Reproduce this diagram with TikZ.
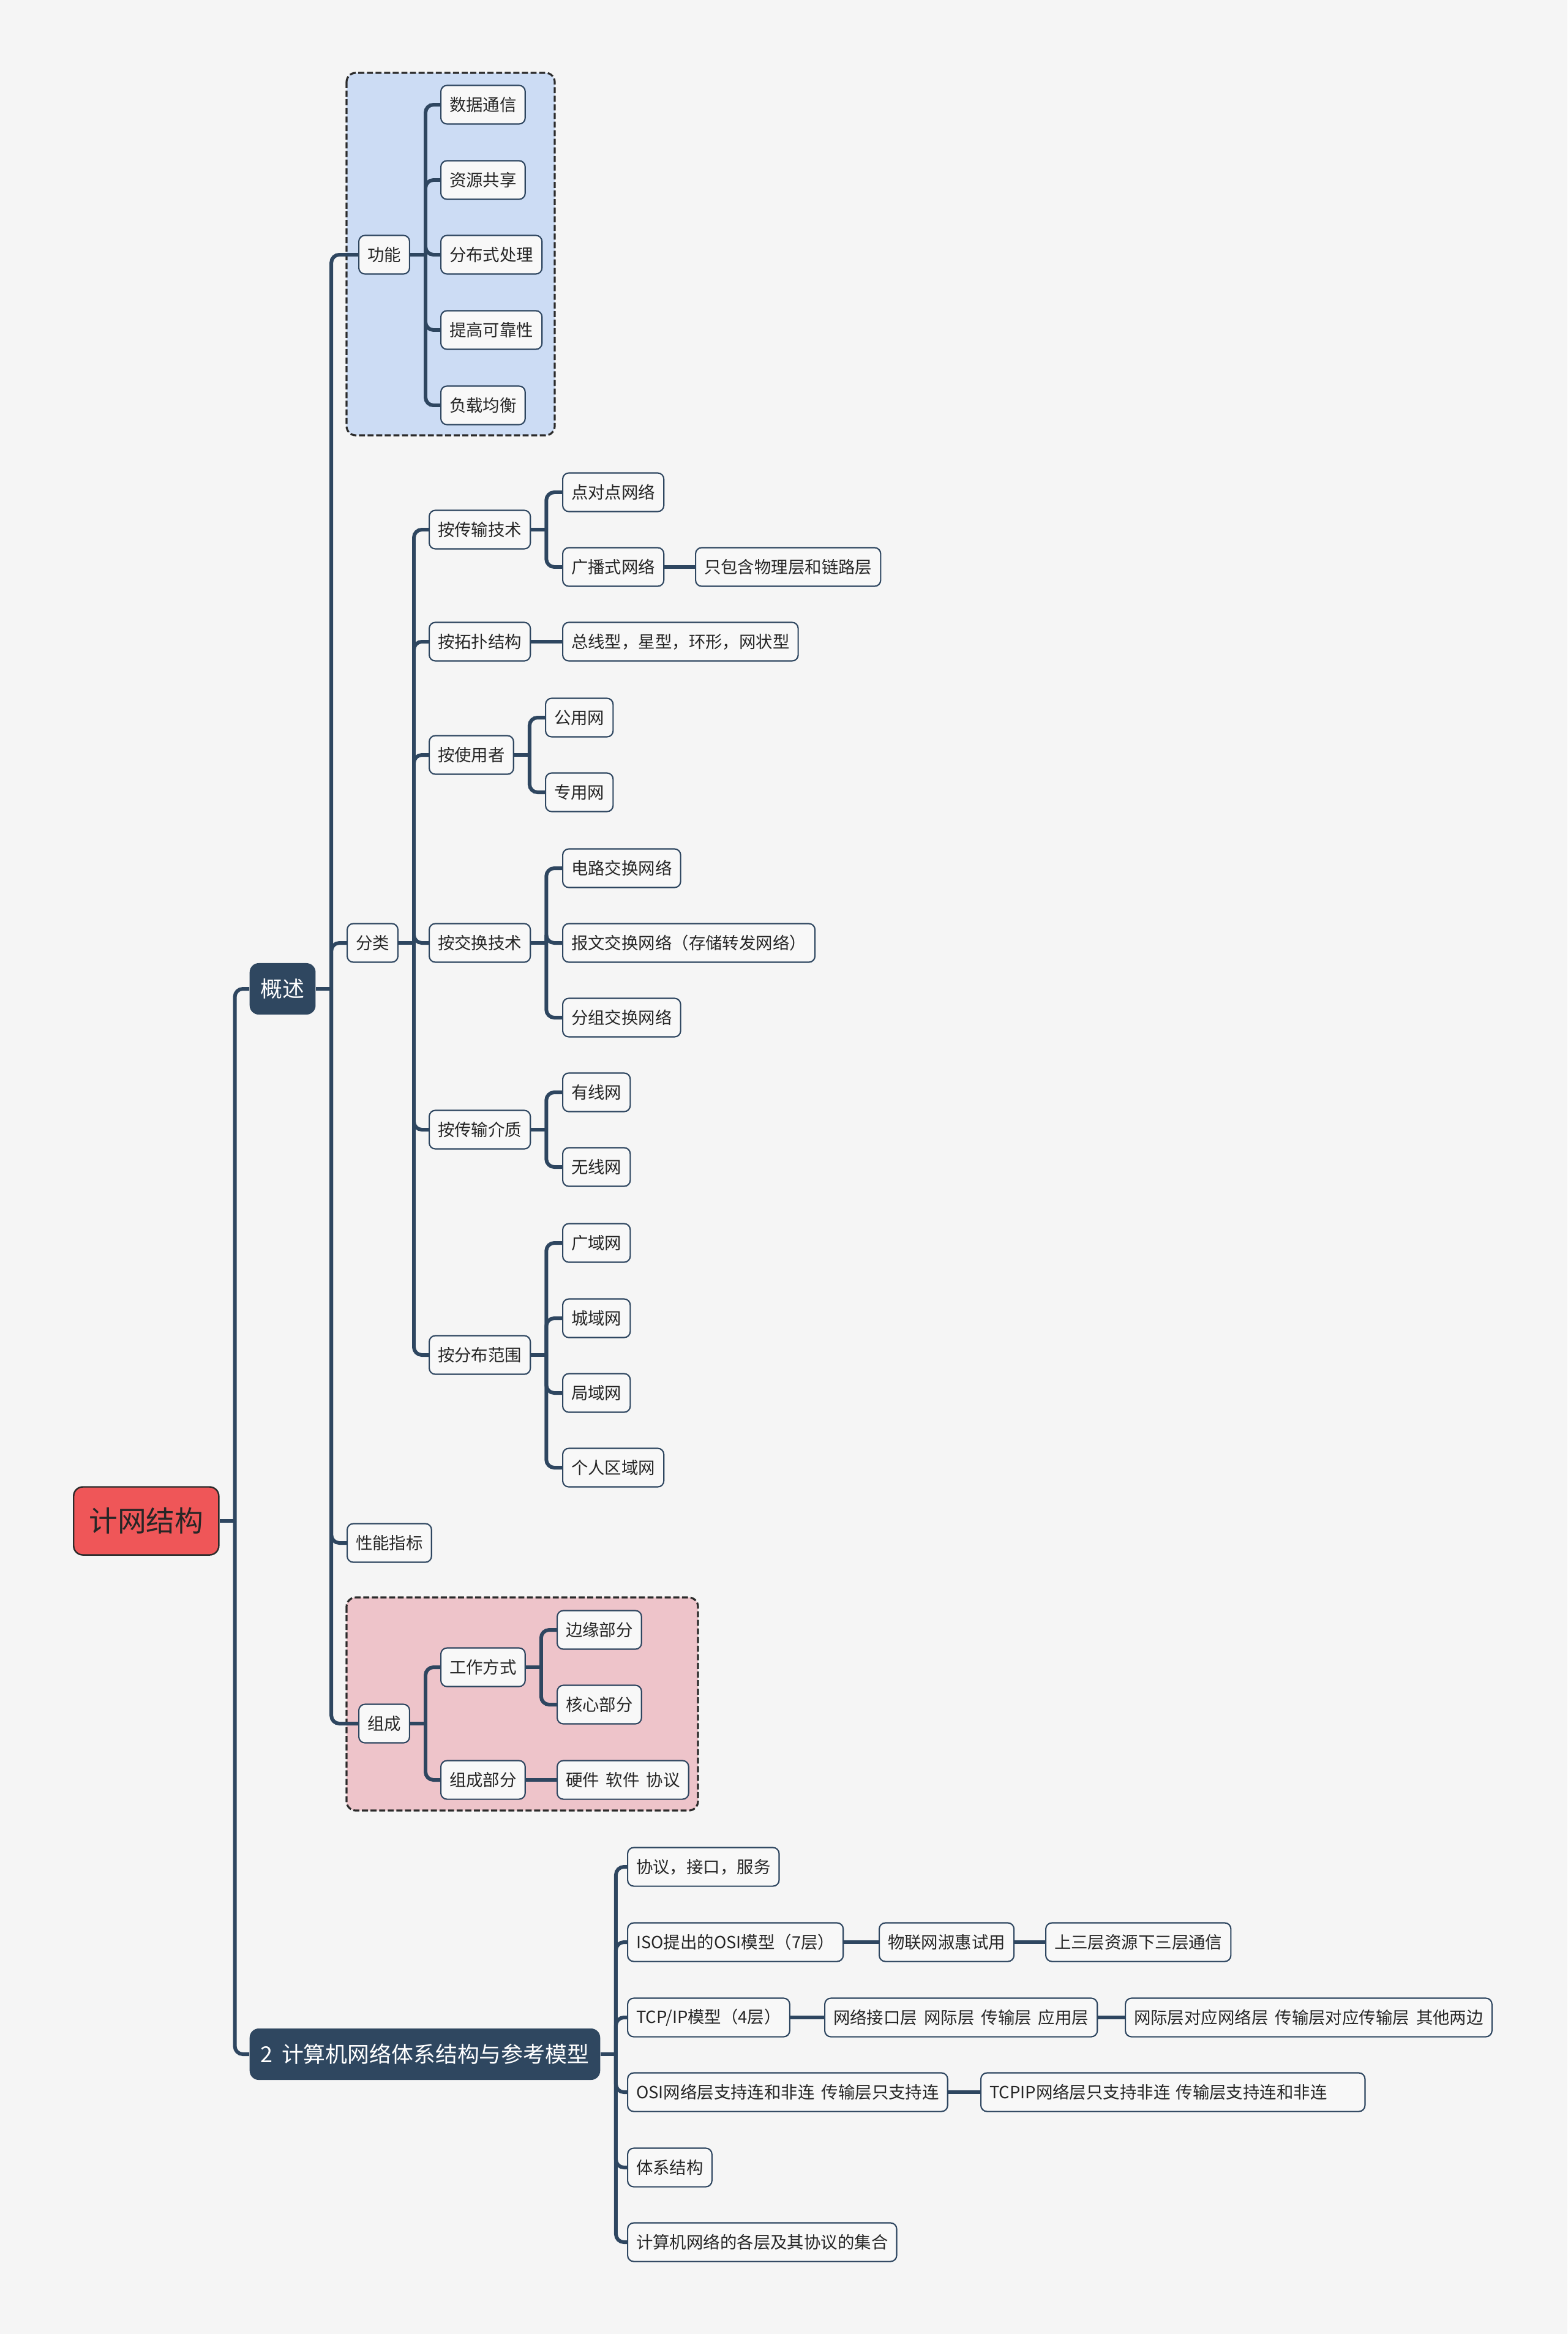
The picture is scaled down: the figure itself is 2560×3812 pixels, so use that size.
\documentclass[tikz,border=0pt]{standalone}
\usepackage{fontspec}
\setmainfont{Noto Sans CJK SC}[WordSpace=1.8]
\usetikzlibrary{positioning, calc}
\definecolor{bgc}{HTML}{F5F5F5}
\definecolor{linec}{HTML}{2E4660}
\definecolor{topicc}{HTML}{2F4760}
\definecolor{rootc}{HTML}{EF5658}
\definecolor{boxblue}{HTML}{CCDCF4}
\definecolor{boxpink}{HTML}{EEC4CA}
\definecolor{leaffill}{HTML}{F8F8F8}
\definecolor{textc}{HTML}{262626}
\definecolor{dashc}{HTML}{2B2B2B}

\newcommand\fanout[2]{%
  \draw[link] (#1.east) -- ++(25,0) coordinate (#1-b);
  \foreach \c in {#2} \draw[link] (#1-b) |- (\c.west);
}

\begin{document}
\begin{tikzpicture}[x=0.01cm, y=-0.01cm,
    every node/.style={font=\fontsize{7.8}{9}\selectfont, text=textc},
    leaf/.style={draw=linec, line width=0.6pt, fill=leaffill, rounded corners=0.1cm,
                 minimum height=0.63cm, inner xsep=0.14cm, anchor=west},
    topicbox/.style={fill=topicc, rounded corners=0.15cm, minimum height=0.84cm,
                 inner xsep=0.18cm, anchor=west, text=white,
                 font=\fontsize{10.2}{12}\selectfont},
    rootbox/.style={draw=dashc, line width=0.7pt, fill=rootc, rounded corners=0.15cm,
                 minimum height=1.11cm, inner xsep=0.25cm, anchor=west, text=textc,
                 font=\fontsize{13.3}{15}\selectfont},
    link/.style={linec, line width=1.7pt, rounded corners=0.13cm},
    groupbox/.style={draw=dashc, line width=0.9pt, dash pattern=on 2.8pt off 1.2pt,
                 rounded corners=0.15cm},
]
\useasboundingbox (0,0) rectangle (2560,3812);
\fill[bgc] (0,0) rectangle (2560,3812);

% the two marked groups
\draw[groupbox, fill=boxblue] (566,119) rectangle (906,711);
\draw[groupbox, fill=boxpink] (566,2609) rectangle (1140,2957);

% root and main topics
\node[rootbox] (root) at (119,2484) {计网结构};
\node[topicbox] (ov) at (407,1615) {概述};
\node[topicbox] (arch) at (407,3355) {2 计算机网络体系结构与参考模型};

% overview
\node[leaf] (func) at (585,416) {功能};
\node[leaf] (cls) at (566,1540) {分类};
\node[leaf] (perf) at (566,2520) {性能指标};
\node[leaf] (comp) at (585,2815) {组成};

\foreach \n/\y/\t in {f1/171/数据通信, f2/294/资源共享, f3/416/分布式处理,
                      f4/539/提高可靠性, f5/662/负载均衡}{
    \node[leaf] (\n) at (719,\y) {\t};
}

\foreach \n/\y/\t in {byTech/865/按传输技术, byTopo/1048/按拓扑结构, byUser/1233/按使用者,
                      bySwitch/1540/按交换技术, byMedia/1845/按传输介质, byRange/2213/按分布范围}{
    \node[leaf] (\n) at (700,\y) {\t};
}

\node[leaf] (p2p) at (918,804) {点对点网络};
\node[leaf] (bcast) at (918,926) {广播式网络};
\node[leaf] (bcastnote) at (1135,926) {只包含物理层和链路层};
\node[leaf] (topo) at (918,1048) {总线型，星型，环形，网状型};
\node[leaf] (pub) at (890,1172) {公用网};
\node[leaf] (pri) at (890,1294) {专用网};
\node[leaf] (circ) at (918,1418) {电路交换网络};
\node[leaf] (msg) at (918,1540) {报文交换网络（存储转发网络）};
\node[leaf] (pkt) at (918,1662) {分组交换网络};
\node[leaf] (wired) at (918,1784) {有线网};
\node[leaf] (wless) at (918,1906) {无线网};
\foreach \n/\y/\t in {wan/2030/广域网, man/2153/城域网, lan/2275/局域网, pan/2397/个人区域网}{
    \node[leaf] (\n) at (918,\y) {\t};
}

\node[leaf] (mode) at (719,2723) {工作方式};
\node[leaf] (parts) at (719,2907) {组成部分};
\node[leaf] (edge) at (909,2662) {边缘部分};
\node[leaf] (core) at (909,2784) {核心部分};
\node[leaf] (hw) at (909,2907) {硬件 软件 协议};

% architecture and reference models
\foreach \n/\y/\t in {a1/3049/协议，接口，服务, a2/3172/ISO提出的OSI模型（7层）,
                      a3/3295/{TCP/IP模型（4层）}, a4/3417/OSI网络层支持连和非连 传输层只支持连,
                      a5/3540/体系结构, a6/3662/计算机网络的各层及其协议的集合}{
    \node[leaf] (\n) at (1024,\y) {\t};
}
\node[leaf] (iot) at (1435,3172) {物联网淑惠试用};
\node[leaf] (upper) at (1707,3172) {上三层资源下三层通信};
\node[leaf] (tcpl) at (1346,3295) {网络接口层 网际层 传输层 应用层};
\node[leaf] (map) at (1837,3295) {网际层对应网络层 传输层对应传输层 其他两边};
\node[leaf, text width=5.99cm, align=left] (tcpip) at (1601,3417) {TCPIP网络层只支持非连 传输层支持连和非连};

% connectors
\fanout{root}{ov, arch}
\fanout{ov}{func, cls, perf, comp}
\fanout{func}{f1, f2, f3, f4, f5}
\fanout{cls}{byTech, byTopo, byUser, bySwitch, byMedia, byRange}
\fanout{byTech}{p2p, bcast}
\fanout{byUser}{pub, pri}
\fanout{bySwitch}{circ, msg, pkt}
\fanout{byMedia}{wired, wless}
\fanout{byRange}{wan, man, lan, pan}
\fanout{comp}{mode, parts}
\fanout{mode}{edge, core}
\fanout{arch}{a1, a2, a3, a4, a5, a6}
\foreach \a/\b in {bcast/bcastnote, byTopo/topo, parts/hw, a2/iot, iot/upper,
                   a3/tcpl, tcpl/map, a4/tcpip}{
    \draw[link] (\a.east) -- (\b.west);
}
\end{tikzpicture}
\end{document}
